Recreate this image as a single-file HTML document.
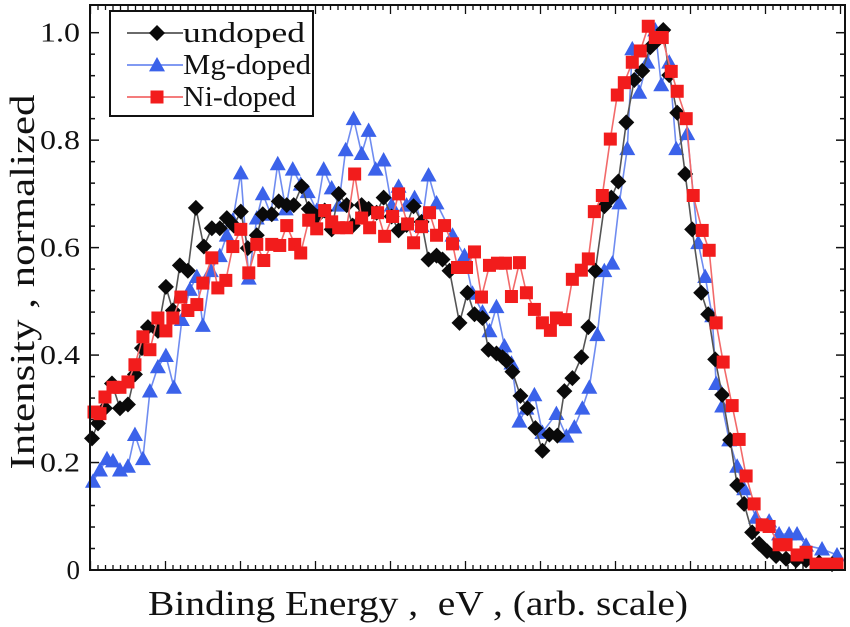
<!DOCTYPE html>
<html><head><meta charset="utf-8"><style>
html,body{margin:0;padding:0;background:#fff;}
svg{display:block;font-family:"Liberation Serif",serif;}
</style></head><body>
<svg id="chart" width="850" height="627" viewBox="0 0 850 627" xmlns="http://www.w3.org/2000/svg">
<g id="ticks"></g>
<g id="series"></g>
<rect x="90" y="5" width="755" height="565" fill="none" stroke="#111" stroke-width="2"/>
<g id="ylabels" font-size="27" fill="#111" text-anchor="end"></g>
<text transform="translate(34,282) rotate(-90)" text-anchor="middle" font-size="35" fill="#111" textLength="375" lengthAdjust="spacingAndGlyphs">Intensity , normalized</text>
<text x="418" y="615" text-anchor="middle" font-size="35" fill="#111" xml:space="preserve" textLength="540" lengthAdjust="spacingAndGlyphs">Binding Energy ,  eV , (arb. scale)</text>
<g>
<rect x="110" y="11" width="203" height="105" fill="#fff" stroke="#111" stroke-width="2"/>
<g id="legend-items"></g>
</g>
</svg>
<script>
// Energy (arb. units, axis range 90..846) and normalized intensity
const undopedX = [92,98,105,112,120,128,135,142,148,158,166,173,180,188,196,204,212,220,227,234,241,248,257,263,272,279,287,294,302,309,317,325,332,339,347,353,362,369,377,384,392,399,407,414,422,429,437,443,450,460,468,475,483,489,497,503,507,513,521,528,536,543,550,558,565,573,582,589,596,605,612,619,627,635,643,651,657,664,670,678,686,693,702,709,716,723,731,738,745,753,760,768,777,787,797,807,820,833];
const undopedY = [.245,.273,.301,.347,.301,.308,.364,.413,.452,.445,.527,.483,.567,.557,.674,.602,.636,.636,.655,.641,.667,.599,.623,.662,.662,.686,.679,.679,.714,.672,.658,.669,.634,.700,.679,.641,.679,.672,.665,.693,.658,.632,.642,.677,.648,.578,.585,.578,.557,.460,.516,.476,.469,.410,.403,.396,.389,.369,.324,.301,.264,.222,.252,.250,.333,.357,.396,.452,.557,.677,.693,.723,.833,.912,.929,.973,.984,1.005,.921,.851,.737,.634,.516,.476,.392,.326,.242,.158,.123,.070,.049,.035,.026,.021,.018,.018,.014,.011];
const mgX = [93,100,107,113,120,128,135,143,150,158,166,174,182,190,197,203,211,220,227,233,241,249,257,263,271,278,286,293,301,308,317,324,332,339,346,354,362,369,376,384,392,399,407,415,422,429,437,453,465,473,483,490,497,505,512,520,527,535,543,557,567,575,583,590,598,605,613,620,628,633,640,648,656,662,670,677,688,699,706,713,717,723,730,738,745,757,770,780,790,798,807,823,838];
const mgY = [.165,.186,.207,.203,.186,.193,.252,.207,.333,.378,.399,.340,.466,.522,.546,.455,.557,.585,.623,.651,.739,.543,.655,.700,.662,.756,.672,.746,.718,.704,.669,.746,.711,.679,.782,.840,.775,.818,.746,.763,.679,.714,.679,.693,.641,.735,.683,.623,.585,.515,.480,.445,.490,.417,.385,.277,.301,.326,.256,.291,.249,.266,.301,.340,.438,.557,.571,.683,.784,.970,.889,.945,1.005,.903,.945,.784,.812,.609,.546,.473,.347,.305,.242,.193,.151,.098,.091,.067,.067,.067,.046,.039,.028];
const niX = [94,100,105,113,120,128,135,143,150,158,166,173,181,188,197,203,212,218,226,233,241,249,257,264,272,280,287,295,301,309,317,325,332,339,347,355,362,370,378,385,393,399,408,414,422,430,437,445,453,458,467,475,482,490,498,506,512,520,527,535,543,551,557,566,573,582,589,595,603,611,618,625,633,641,649,656,663,672,678,687,694,703,710,717,724,733,740,747,755,763,770,780,787,798,807,817,827,838];
const niY = [.294,.291,.322,.340,.340,.350,.382,.434,.410,.469,.445,.469,.508,.483,.494,.534,.581,.525,.539,.602,.634,.553,.606,.576,.606,.604,.641,.606,.590,.651,.635,.669,.648,.637,.637,.737,.655,.637,.665,.621,.658,.700,.644,.609,.639,.665,.623,.641,.607,.563,.563,.592,.508,.567,.571,.571,.509,.572,.516,.485,.460,.446,.469,.466,.541,.558,.579,.667,.697,.802,.884,.907,.945,.966,1.012,.991,.991,.928,.891,.840,.697,.632,.595,.460,.387,.306,.243,.175,.123,.084,.081,.047,.047,.028,.033,.011,.011,.011];
const yTickValues = [0,0.2,0.4,0.6,0.8,1.0];
const yTickLabels = ["0","0.2","0.4","0.6","0.8","1.0"];

const NS = "http://www.w3.org/2000/svg";
const X0=90, X1=845, Y0=570, Y1=32.7, DMIN=90, DMAX=846;
function sx(v){ return X0 + (v-DMIN)/(DMAX-DMIN)*(X1-X0); }
function sy(v){ return Y0 - v*(Y0-Y1); }
function mk(tag, attrs, parent){ const e=document.createElementNS(NS,tag); for(const k in attrs) e.setAttribute(k,attrs[k]); parent.appendChild(e); return e; }

const tg=document.getElementById('ticks');
for(let i=0;i<=25;i++){
  const v=i*0.04, y=sy(v), major=(i%5===0), L=major?9:5;
  const a=mk('line',{x1:X0,x2:X0+L,y1:y,y2:y,stroke:'#111','stroke-width':1.5},tg);
  
  
  const b=mk('line',{x1:X1,x2:X1-L,y1:y,y2:y,stroke:'#111','stroke-width':1.5},tg);
  
  
}
for(let px=X0+0.5, i=0; px<X1; px+=7.5, i++){
  const major=((i-10)%10===0), L=major?9:5;
  const a=mk('line',{x1:px,x2:px,y1:Y0,y2:Y0-L,stroke:'#111','stroke-width':1.3},tg);
  
  
  const b=mk('line',{x1:px,x2:px,y1:5,y2:5+L,stroke:'#111','stroke-width':1.3},tg);
  
  
}
const yl=document.getElementById('ylabels');
yTickValues.forEach((v,i)=>{
  const t=mk('text',{x:80,y:sy(v)+9},yl);
  if(yTickLabels[i].length>1){ t.setAttribute('textLength',40); t.setAttribute('lengthAdjust','spacingAndGlyphs'); }
  t.textContent=yTickLabels[i];
  
  
});

function marker(type,x,y,color,parent,s){
  let e;
  if(type==='diamond') e=mk('polygon',{points:`${x},${y-s} ${x+s},${y} ${x},${y+s} ${x-s},${y}`,fill:color},parent);
  else if(type==='tri') e=mk('polygon',{points:`${x},${y-s} ${x+s},${y+s*0.8} ${x-s},${y+s*0.8}`,fill:color},parent);
  else e=mk('rect',{x:x-s,y:y-s,width:2*s,height:2*s,fill:color},parent);
  return e;
}
const sg=document.getElementById('series');
const series=[
  {name:'mg-doped', xs:mgX, ys:mgY, line:'#6f8cf0', col:'#3b62ea', m:'tri', s:8},
  {name:'undoped', xs:undopedX, ys:undopedY, line:'#555', col:'#0a0a0a', m:'diamond', s:8},
  {name:'ni-doped', xs:niX, ys:niY, line:'#f26a6a', col:'#f21c1c', m:'sq', s:6.5}
];
series.forEach(S=>{
  const g=mk('g',{},sg);
  
  
  const pts=S.xs.map((x,i)=>sx(x)+','+sy(S.ys[i])).join(' ');
  const pl=mk('polyline',{points:pts,fill:'none',stroke:S.line,'stroke-width':1.6},g);
  
  
  S.xs.forEach((x,i)=>{
    const e=marker(S.m,sx(x),sy(S.ys[i]),S.col,g,S.s);
    
    
  });
});

const lg=document.getElementById('legend-items');
const legendLabels=['undoped','Mg-doped','Ni-doped'];
const legendWidths=[122,128,113];
const legendOrder=[series[1],series[0],series[2]];
legendOrder.forEach((S,i)=>{
  const y=33+i*32;
  const g=mk('g',{},lg);
  
  
  mk('line',{x1:127,x2:183,y1:y,y2:y,stroke:S.line,'stroke-width':1.8},g);
  marker(S.m,157,y,S.col,g,S.s);
  const t=mk('text',{x:183,y:y+9,'font-size':29,fill:'#111',textLength:legendWidths[i],lengthAdjust:'spacingAndGlyphs'},g);
  t.textContent=legendLabels[i];
});
</script>
</body></html>
